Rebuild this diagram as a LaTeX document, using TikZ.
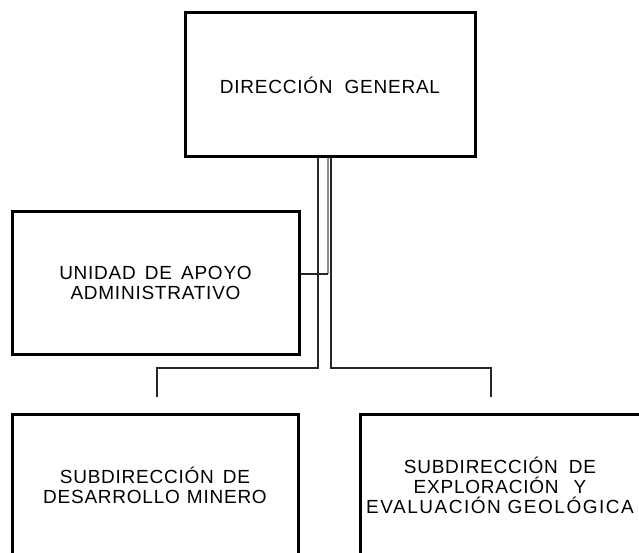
\documentclass[tikz,border=0pt]{standalone}
\usepackage{fontspec}
\setmainfont{Liberation Sans}
\newfontfamily\boxfont[LetterSpace=4]{Liberation Sans}
\newcommand{\gapx}[1]{\hspace{#1pt}}
\begin{document}
\begin{tikzpicture}[x=1pt,y=-1pt,
  unitbox/.style={draw=black,line width=3pt,rectangle,inner sep=0pt,align=center,
    font=\boxfont\fontsize{19}{20}\selectfont},
  conn/.style={draw=black!85,line width=1.3pt},
  grayconn/.style={draw=black!45,line width=2pt}]
\useasboundingbox (0,0) rectangle (639,553);
\fill[white] (0,0) rectangle (639,553);
\node[unitbox,minimum width=290pt,minimum height=144pt] (top) at (330,85)
  {DIRECCIÓN \gapx{6}GENERAL};
\node[unitbox,minimum width=287pt,minimum height=142pt] (unidad) at (155.5,283)
  {UNIDAD \gapx{3}DE \gapx{3}APOYO\\ADMINISTRATIVO};
\node[unitbox,minimum width=286pt,minimum height=142pt] (minero) at (155,485)
  {SUBDIRECCIÓN \gapx{3}DE\\DESARROLLO \gapx{1}MINERO};
\node[unitbox,minimum width=280pt,minimum height=142pt] (geol) at (500,485)
  {SUBDIRECCIÓN \gapx{5}DE\\EXPLORACIÓN \gapx{9}Y\\{\addfontfeature{LetterSpace=8}EVALUACIÓN GEOLÓGICA}};
\coordinate (ljoint) at (157,368);
\coordinate (rjoint) at (491,368);
\coordinate (ldrop) at (157,397);
\coordinate (rdrop) at (491,397);
\draw[grayconn] ([xshift=-2pt]top.south) -- ([xshift=-2pt,yshift=9pt]top.south |- unidad.east);
\draw[conn] ([yshift=9pt]unidad.east) -- ([xshift=-2pt,yshift=9pt]top.south |- unidad.east);
\draw[conn] ([xshift=-12pt]top.south) |- (ljoint) -- (ldrop);
\draw[conn] ([xshift=1pt]top.south) |- (rjoint) -- (rdrop);
\end{tikzpicture}
\end{document}
